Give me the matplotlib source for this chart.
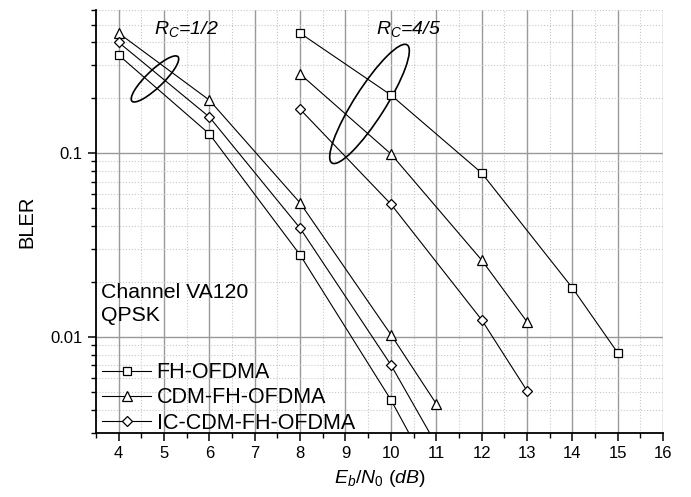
import numpy as np
import matplotlib.pyplot as plt
import matplotlib.transforms as mtransforms
from matplotlib.patches import Ellipse
from matplotlib.ticker import LogLocator, NullFormatter, MultipleLocator, FixedLocator

plt.rcParams['font.family'] = ['Liberation Sans', 'DejaVu Sans']
plt.rcParams['mathtext.fontset'] = 'custom'
plt.rcParams['mathtext.rm'] = 'Liberation Sans'
plt.rcParams['mathtext.it'] = 'Liberation Sans:italic'

# Rc = 1/2
x_half = [4, 6, 8, 10, 11]
fh_half = [0.341, 0.127, 0.0279, 0.00455, 0.0016]
cdm_half = [0.449, 0.194, 0.0535, 0.0103, 0.00433]
x_half_ic = [4, 6, 8, 10, 11]
ic_half = [0.40, 0.157, 0.039, 0.00705, 0.0026]

# Rc = 4/5
x_fh45 = [8, 10, 12, 14, 15]
fh_45 = [0.449, 0.207, 0.078, 0.0185, 0.0082]
x_cdm45 = [8, 10, 12, 13]
cdm_45 = [0.269, 0.099, 0.0262, 0.0121]
x_ic45 = [8, 10, 12, 13]
ic_45 = [0.173, 0.0528, 0.0124, 0.0051]

labels = ['FH-OFDMA', 'CDM-FH-OFDMA', 'IC-CDM-FH-OFDMA']

fig = plt.figure(figsize=(6.91, 4.97), dpi=100)
ax = fig.add_axes([0.1389, 0.1288, 0.8206, 0.8511])

line_kw = dict(color='black', linewidth=0.8, markerfacecolor='white', markeredgecolor='black', markeredgewidth=0.9)
sq = dict(marker='s', markersize=6.3)
tri = dict(marker='^', markersize=7.5)
dia = dict(marker='D', markersize=5.2)

ax.plot(x_half, fh_half, label=labels[0], **sq, **line_kw)
ax.plot(x_half, cdm_half, label=labels[1], **tri, **line_kw)
ax.plot(x_half_ic, ic_half, label=labels[2], **dia, **line_kw)
ax.plot(x_fh45, fh_45, **sq, **line_kw)
ax.plot(x_cdm45, cdm_45, **tri, **line_kw)
ax.plot(x_ic45, ic_45, **dia, **line_kw)

ax.set_yscale('log')
ax.set_xlim(3.5, 16)
ax.set_ylim(0.003, 0.6)

ax.xaxis.set_major_locator(MultipleLocator(1))
ax.xaxis.set_minor_locator(MultipleLocator(0.5))
ax.yaxis.set_major_locator(FixedLocator([0.01, 0.1]))
ax.yaxis.set_major_formatter(plt.FuncFormatter(lambda v, p: '{:g}'.format(v)))
ax.yaxis.set_minor_locator(LogLocator(base=10, subs=np.arange(2, 10)))
ax.yaxis.set_minor_formatter(NullFormatter())

ax.grid(which='major', color='#999999', linewidth=1.0, linestyle='-')
ax.grid(which='minor', color='#c8c8c8', linewidth=0.8, linestyle=':')
ax.set_axisbelow(True)

for s in ['top', 'right']:
    ax.spines[s].set_visible(False)
ax.spines['left'].set_linewidth(1.3)
ax.spines['bottom'].set_linewidth(1.3)
ax.tick_params(which='major', direction='out', length=6, width=1.1, labelsize=12)
ax.tick_params(which='minor', direction='out', length=3.5, width=1.0)

ax.set_xlabel('$E_b/N_0$ $(dB)$', fontsize=14, labelpad=5)
ax.set_ylabel('BLER', fontsize=14.5, labelpad=10)

ax.text(4.77, 0.47, '$R_C$=1/2', fontsize=14, style='italic', va='center')
ax.text(9.68, 0.47, '$R_C$=4/5', fontsize=14, style='italic', va='center')
ax.text(0.008, 0.355, 'Channel VA120\nQPSK', transform=ax.transAxes, fontsize=15.3,
        va='top', ha='left', linespacing=1.3)

# ellipses sized in inches, placed in data coordinates
for cx, cy, w, h, ang in [(4.80, 0.253, 0.64, 0.17, 44), (9.53, 0.185, 1.40, 0.31, 57.5)]:
    tr = fig.dpi_scale_trans + mtransforms.ScaledTranslation(cx, cy, ax.transData)
    ax.add_patch(Ellipse((0, 0), w, h, angle=ang, transform=tr, fill=False,
                         edgecolor='black', linewidth=1.2))

ax.legend(loc='lower left', frameon=False, fontsize=15.5, handlelength=2.3,
          handletextpad=0.25, labelspacing=0.2, borderaxespad=0.0,
          bbox_to_anchor=(-0.005, -0.022))

fig.savefig('out.png', dpi=100)
